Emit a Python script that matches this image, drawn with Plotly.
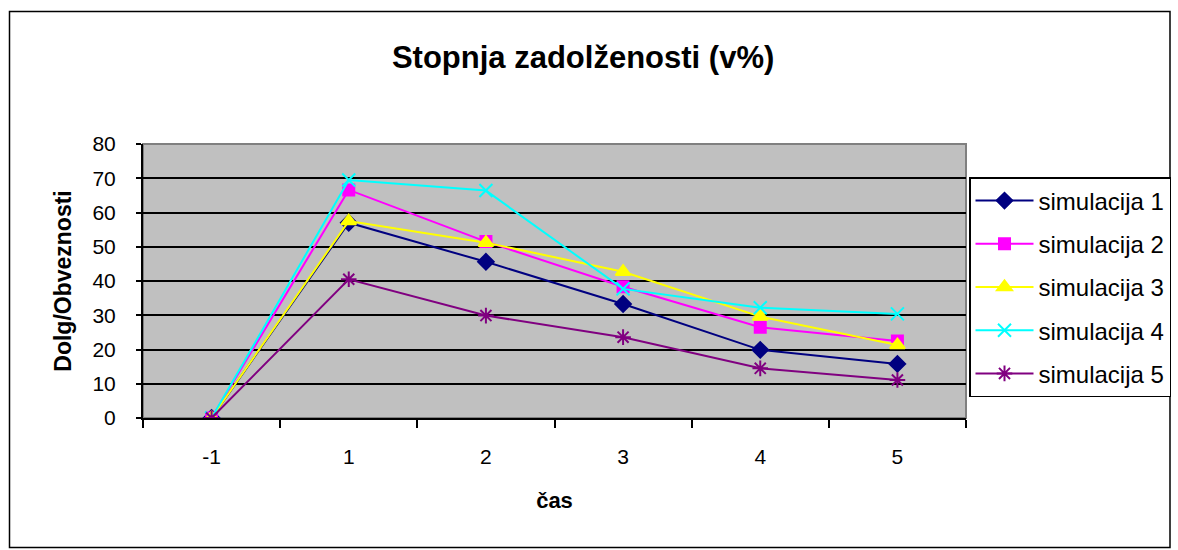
import plotly.graph_objects as go

# chart data
casi = ["-1", "1", "2", "3", "4", "5"]
sim1 = [0, 57.0, 45.6, 33.3, 19.9, 15.8]
sim2 = [0, 66.6, 51.5, 38.3, 26.5, 22.5]
sim3 = [0, 57.5, 51.2, 42.7, 29.6, 21.3]
sim4 = [0, 69.5, 66.4, 37.7, 32.2, 30.4]
sim5 = [0, 40.5, 29.9, 23.6, 14.5, 11.1]
imena = ["simulacija 1", "simulacija 2", "simulacija 3", "simulacija 4", "simulacija 5"]

barve = ["#000080", "#FF00FF", "#FFFF00", "#00FFFF", "#800080"]
oznake = ["diamond", "square", "triangle-up", "x-thin-open", "asterisk-open"]
velikosti = [12, 11, 13, 13, 13]

FONT = "Liberation Sans, Arial, sans-serif"

fig = go.Figure()
for i, vals in enumerate([sim1, sim2, sim3, sim4, sim5]):
    fig.add_trace(go.Scatter(
        x=casi, y=vals, name=imena[i], mode="lines+markers",
        legendgroup=str(i),
        line=dict(color=barve[i], width=2),
        marker=dict(symbol=oznake[i], size=velikosti[i], color=barve[i],
                    line=dict(color=barve[i], width=2)),
    ))

# plot area: x 143..966, y 144..418 px
L, R, T, B = 143, 966, 144, 418
W, H = 1178, 550
pw, ph = R - L, B - T


def px(x):
    return (x - L) / pw


def py(y):
    return (B - y) / ph


fig.update_layout(
    width=W, height=H,
    margin=dict(l=L, r=W - R, t=T, b=H - B, autoexpand=False),
    paper_bgcolor="white",
    plot_bgcolor="#C0C0C0",
    font=dict(family=FONT, size=21, color="black"),
    title=dict(text="<b>Stopnja zadolženosti (v%)</b>", x=0.495, xanchor="center",
               y=1 - 57 / H, yanchor="middle", font=dict(size=31)),
    legend=dict(x=px(969), y=py(177), xanchor="left", yanchor="top",
                bordercolor="black", borderwidth=1.5, bgcolor="white",
                font=dict(size=24), tracegroupgap=9, itemwidth=58),
    showlegend=True,
    shapes=[
        dict(type="rect", xref="paper", yref="paper", x0=0, x1=1, y0=0, y1=1,
             line=dict(color="#808080", width=2), layer="below"),
        dict(type="rect", xref="paper", yref="paper",
             x0=px(9.5), x1=px(1170), y0=py(547.5), y1=py(11.5),
             line=dict(color="black", width=1.5)),
    ],
)

fig.update_xaxes(
    type="category", range=[-0.5, 5.5], tickson="boundaries",
    ticks="outside", ticklen=8, tickwidth=1.5, tickcolor="black",
    showline=True, linecolor="black", linewidth=2,
    showgrid=False, zeroline=False,
    tickfont=dict(size=21), ticklabelstandoff=19,
    title=dict(text="<b>čas</b>", font=dict(size=22), standoff=25),
)
fig.update_yaxes(
    range=[0, 80], dtick=10, tick0=0,
    ticks="outside", ticklen=5, tickwidth=1.5, tickcolor="black",
    showline=True, linecolor="black", linewidth=2,
    showgrid=True, gridcolor="black", gridwidth=1.5, zeroline=False,
    tickfont=dict(size=21), ticklabelstandoff=16,
    title=dict(text="<b>Dolg/Obveznosti</b>", font=dict(size=23), standoff=14),
)

fig.write_html("out.html", config={"displayModeBar": False},
               post_script="document.body.style.margin='0';")
